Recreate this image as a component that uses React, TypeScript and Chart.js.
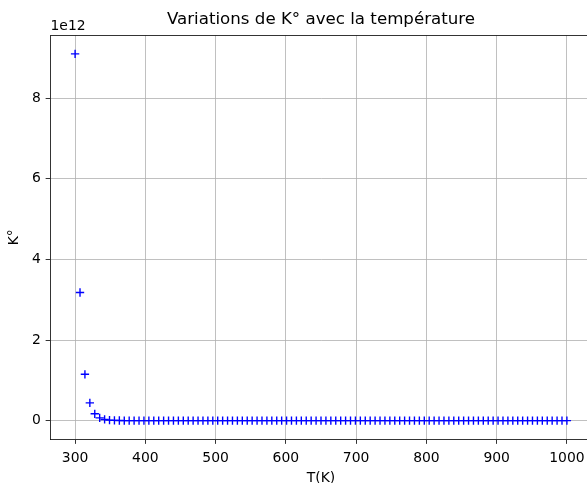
import React, { useEffect, useRef } from "react";
import { Chart, registerables } from "chart.js";

Chart.register(...registerables);

// Temperatures (K)
const temperatures = [
  300, 307, 314, 321, 328, 335, 342, 349, 356, 363,
  370, 377, 384, 391, 398, 405, 412, 419, 426, 433,
  440, 447, 454, 461, 468, 475, 482, 489, 496, 503,
  510, 517, 524, 531, 538, 545, 552, 559, 566, 573,
  580, 587, 594, 601, 608, 615, 622, 629, 636, 643,
  650, 657, 664, 671, 678, 685, 692, 699, 706, 713,
  720, 727, 734, 741, 748, 755, 762, 769, 776, 783,
  790, 797, 804, 811, 818, 825, 832, 839, 846, 853,
  860, 867, 874, 881, 888, 895, 902, 909, 916, 923,
  930, 937, 944, 951, 958, 965, 972, 979, 986, 993,
  1000,
];

// Equilibrium constant K°
const kValues = [
  9.1e12, 3.18e12, 1.15e12, 4.4e11, 1.7e11, 7.0e10, 3.0e10, 1.35e10, 6.2e9, 2.9e9,
  1.4e9, 7.1e8, 3.6e8, 1.9e8, 1.0e8, 5.5e7, 3.1e7, 1.8e7, 1.05e7, 6.2e6,
  3.7e6, 2.3e6, 1.4e6, 8.9e5, 5.7e5, 3.7e5, 2.4e5, 1.6e5, 1.1e5, 7.3e4,
  5.0e4, 3.5e4, 2.4e4, 1.7e4, 1.2e4, 8.6e3, 6.2e3, 4.5e3, 3.3e3, 2.4e3,
  1.8e3, 1.35e3, 1.0e3, 760, 580, 440, 340, 265, 205, 160,
  126, 99, 78, 62, 49, 39, 31.5, 25.5, 20.6, 16.8,
  13.7, 11.2, 9.2, 7.6, 6.3, 5.2, 4.3, 3.6, 3.0, 2.5,
  2.1, 1.76, 1.48, 1.25, 1.06, 0.9, 0.77, 0.66, 0.56, 0.48,
  0.42, 0.36, 0.31, 0.27, 0.235, 0.205, 0.18, 0.157, 0.138, 0.121,
  0.107, 0.094, 0.083, 0.074, 0.066, 0.058, 0.052, 0.046, 0.041, 0.037,
  0.033,
];

const xTickValues = [300, 400, 500, 600, 700, 800, 900, 1000];
const yTickValues = [0, 2e12, 4e12, 6e12, 8e12];
const yExponent = 12;

const titleText = "Variations de K° avec la température";
const xLabel = "T(K)";
const yLabel = "K°";

const FONT = "'DejaVu Sans', sans-serif";
const TICK_FONT = 13.9;

export default function App() {
  const ref = useRef<HTMLCanvasElement>(null);

  useEffect(() => {
    const canvas = ref.current;
    if (!canvas) return;

    const framePlugin = {
      id: "frameAndOffset",
      afterDraw(chart: any) {
        const { ctx, chartArea } = chart;
        ctx.save();
        ctx.strokeStyle = "#000";
        ctx.lineWidth = 0.8;
        ctx.beginPath();
        ctx.moveTo(chartArea.left, chartArea.top);
        ctx.lineTo(chartArea.right, chartArea.top);
        ctx.lineTo(chartArea.right, chartArea.bottom);
        ctx.stroke();
        ctx.fillStyle = "#000";
        ctx.font = `${TICK_FONT}px ${FONT}`;
        ctx.textAlign = "left";
        ctx.textBaseline = "alphabetic";
        ctx.fillText("1e" + yExponent, chartArea.left, chartArea.top - 5.5);
        ctx.restore();
      },
    };

    const chart = new Chart(canvas, {
      type: "scatter",
      data: {
        datasets: [
          {
            data: temperatures.map((t, i) => ({ x: t, y: kValues[i] })),
            pointStyle: "cross",
            radius: 4.17,
            borderWidth: 1.39,
            borderColor: "#0000ff",
            backgroundColor: "#0000ff",
          },
        ],
      },
      options: {
        responsive: false,
        animation: false,
        devicePixelRatio: window.devicePixelRatio || 1,
        layout: { padding: { left: 0, right: 8.5, top: 0, bottom: 0 } },
        plugins: {
          legend: { display: false },
          tooltip: { enabled: false },
          title: {
            display: true,
            text: titleText,
            fullSize: false,
            color: "#000",
            font: { family: FONT, size: 16.67, weight: "normal", lineHeight: 1.2 },
            padding: { top: 9.5, bottom: 6 },
          },
        },
        scales: {
          x: {
            type: "linear",
            min: 265,
            max: 1035,
            afterBuildTicks: (s: any) => {
              s.ticks = xTickValues.map((v) => ({ value: v }));
            },
            afterFit: (s: any) => {
              s.height = 61;
            },
            ticks: {
              color: "#000",
              font: { family: FONT, size: TICK_FONT },
              padding: 6,
              maxRotation: 0,
              autoSkip: false,
              callback: (v: any) => String(v),
            },
            grid: {
              color: "#b0b0b0",
              lineWidth: 0.8,
              tickColor: "#000",
              tickLength: 4.86,
              tickWidth: 0.8,
            },
            border: { color: "#000", width: 0.8 },
            title: {
              display: true,
              text: xLabel,
              color: "#000",
              font: { family: FONT, size: TICK_FONT },
              padding: { top: 0, bottom: 13.2 },
            },
          },
          y: {
            type: "linear",
            min: -0.455e12,
            max: 9.555e12,
            afterBuildTicks: (s: any) => {
              s.ticks = yTickValues.map((v) => ({ value: v }));
            },
            afterFit: (s: any) => {
              s.width = 50.5;
            },
            ticks: {
              color: "#000",
              font: { family: FONT, size: TICK_FONT },
              padding: 4.86,
              autoSkip: false,
              callback: (v: any) => String(Math.round(Number(v) / Math.pow(10, yExponent))),
            },
            grid: {
              color: "#b0b0b0",
              lineWidth: 0.8,
              tickColor: "#000",
              tickLength: 4.86,
              tickWidth: 0.8,
            },
            border: { color: "#000", width: 0.8 },
            title: {
              display: true,
              text: yLabel,
              color: "#000",
              font: { family: FONT, size: TICK_FONT },
              padding: { top: 6.5, bottom: 0 },
            },
          },
        },
      },
      plugins: [framePlugin],
    } as any);

    return () => {
      chart.destroy();
    };
  }, []);

  return (
    <div
      style={{
        position: "fixed",
        left: 0,
        top: 0,
        width: 587,
        height: 483,
        overflow: "hidden",
        background: "#fff",
      }}
    >
      <canvas ref={ref} width={600} height={500} style={{ width: 600, height: 500, display: "block" }} />
    </div>
  );
}
